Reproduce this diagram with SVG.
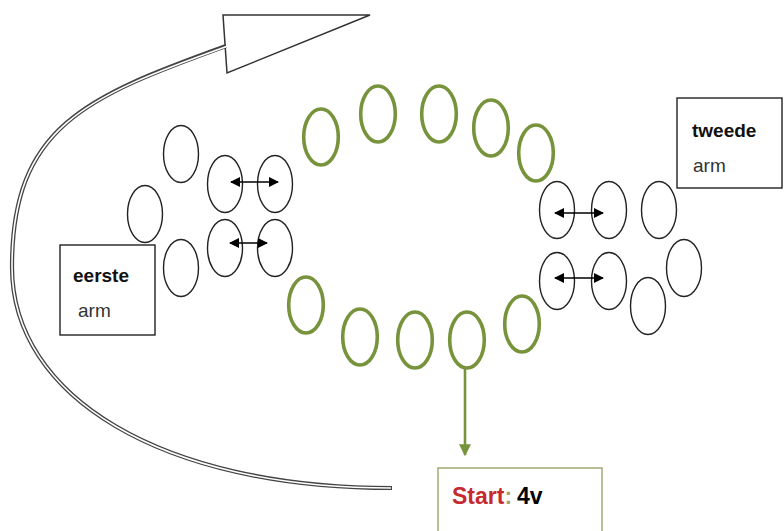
<svg xmlns="http://www.w3.org/2000/svg" width="784" height="531" viewBox="0 0 784 531">
<defs>
<style>
.bead{fill:none;stroke:#222;stroke-width:1.4}
.green{fill:none;stroke:#77933c;stroke-width:3.6}
.box{fill:#fff;stroke:#222;stroke-width:1.4}
.lbl{font-family:"Liberation Sans",Arial,sans-serif;font-size:19px;fill:#111}
.b{font-weight:bold}
.big{font-size:23px}
.dbl{stroke:#000;stroke-width:1.6;fill:none;marker-start:url(#ah);marker-end:url(#ah)}
</style>
<marker id="ah" viewBox="0 0 10 10" refX="9" refY="5" markerWidth="12" markerHeight="10" markerUnits="userSpaceOnUse" orient="auto-start-reverse">
<path d="M0,0 L10,5 L0,10 Z" fill="#000"/>
</marker>
<marker id="gh" viewBox="0 0 10 10" refX="9" refY="5" markerWidth="13" markerHeight="12" markerUnits="userSpaceOnUse" orient="auto">
<path d="M0,0 L10,5 L0,10 Z" fill="#77933c"/>
</marker>
</defs>
<rect width="784" height="531" fill="#fff"/>

<g id="big-arrow">
<polygon points="223,15 370,15 227,73" fill="#fff" stroke="#333" stroke-width="1.5" stroke-linejoin="miter"/>
<path d="M226,46 C85,97 12,127 12,267 C12,397 162,488 392,488" fill="none" stroke="#444" stroke-width="4.2"/>
<path d="M228,46 C85,97 12,127 12,267 C12,397 162,488 391,488" fill="none" stroke="#fff" stroke-width="1.6"/>
</g>

<g id="ring-top">
<ellipse class="green" cx="321" cy="137" rx="17.3" ry="28"/>
<ellipse class="green" cx="378" cy="114" rx="17.3" ry="28"/>
<ellipse class="green" cx="439" cy="114" rx="17.3" ry="28"/>
<ellipse class="green" cx="491" cy="128" rx="17.3" ry="28"/>
<ellipse class="green" cx="536" cy="153" rx="17.3" ry="28"/>
</g>
<g id="ring-bottom">
<ellipse class="green" cx="306" cy="305" rx="17.3" ry="28"/>
<ellipse class="green" cx="360" cy="337" rx="17.3" ry="28"/>
<ellipse class="green" cx="415" cy="340" rx="17.3" ry="28"/>
<ellipse class="green" cx="467" cy="340" rx="17.3" ry="28"/>
<ellipse class="green" cx="522" cy="324" rx="17.3" ry="28"/>
</g>

<g id="arm-left">
<ellipse class="bead" cx="181" cy="154" rx="17.5" ry="28.5"/>
<ellipse class="bead" cx="145" cy="214" rx="17.5" ry="28.5"/>
<ellipse class="bead" cx="181" cy="268" rx="17.5" ry="28.5"/>
<ellipse class="bead" cx="225" cy="184" rx="17.5" ry="28.5"/>
<ellipse class="bead" cx="275" cy="184" rx="17.5" ry="28.5"/>
<ellipse class="bead" cx="225" cy="248" rx="17.5" ry="28.5"/>
<ellipse class="bead" cx="275" cy="248" rx="17.5" ry="28.5"/>
</g>

<g id="arm-right">
<ellipse class="bead" cx="557" cy="210" rx="17.5" ry="28.5"/>
<ellipse class="bead" cx="609" cy="210" rx="17.5" ry="28.5"/>
<ellipse class="bead" cx="659" cy="210" rx="17.5" ry="28.5"/>
<ellipse class="bead" cx="557" cy="281" rx="17.5" ry="28.5"/>
<ellipse class="bead" cx="609" cy="281" rx="17.5" ry="28.5"/>
<ellipse class="bead" cx="648" cy="306" rx="17.5" ry="28.5"/>
<ellipse class="bead" cx="684" cy="268" rx="17.5" ry="28.5"/>
</g>

<g id="connectors">
<line class="dbl" x1="231" y1="182" x2="278" y2="182"/>
<line class="dbl" x1="230" y1="243" x2="267" y2="243"/>
<line class="dbl" x1="555" y1="213" x2="603" y2="213"/>
<line class="dbl" x1="555" y1="278" x2="603" y2="278"/>
<line x1="465" y1="368" x2="465" y2="455" stroke="#77933c" stroke-width="2.6" marker-end="url(#gh)"/>
</g>

<g id="label-eerste">
<rect class="box" x="60" y="245" width="95" height="90"/>
<text class="lbl b" x="73" y="282">eerste</text>
<text class="lbl" x="78" y="317" style="fill:#333">arm</text>
</g>

<g id="label-tweede">
<rect class="box" x="677" y="98" width="105" height="90"/>
<text class="lbl b" x="692" y="137">tweede</text>
<text class="lbl" x="693" y="172" style="fill:#333">arm</text>
</g>

<g id="label-start">
<rect x="438" y="468" width="164" height="70" fill="#fff" stroke="#a3a873" stroke-width="1.5"/>
<text class="lbl b big" x="452" y="504"><tspan style="fill:#c62a2f">Start</tspan><tspan style="fill:#a5a46a">:</tspan><tspan dx="5" style="fill:#000">4v</tspan></text>
</g>
</svg>
